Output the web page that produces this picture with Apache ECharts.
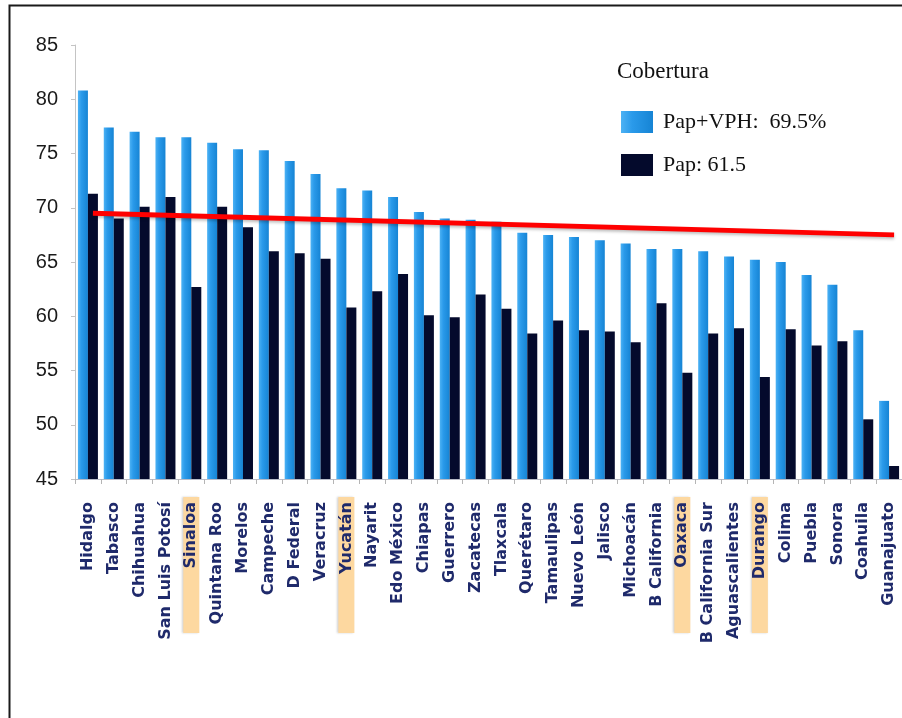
<!DOCTYPE html>
<html>
<head>
<meta charset="utf-8">
<script src="https://cdn.jsdelivr.net/npm/echarts@6/dist/echarts.min.js"></script>
<style>
html,body{margin:0;padding:0;background:#fff;}
#chart{width:902px;height:718px;}
</style>
</head>
<body>
<div id="chart"></div>
<script>
const categories = ['Hidalgo','Tabasco','Chihuahua','San Luis Potosí','Sinaloa','Quintana Roo','Morelos','Campeche','D Federal','Veracruz','Yucatán','Nayarit','Edo México','Chiapas','Guerrero','Zacatecas','Tlaxcala','Querétaro','Tamaulipas','Nuevo León','Jalisco','Michoacán','B California','Oaxaca','B California Sur','Aguascalientes','Durango','Colima','Puebla','Sonora','Coahuila','Guanajuato'];
const papVph = [80.8,77.4,77.0,76.5,76.5,76.0,75.4,75.3,74.3,73.1,71.8,71.6,71.0,69.6,69.0,68.9,68.7,67.7,67.5,67.3,67.0,66.7,66.2,66.2,66.0,65.5,65.2,65.0,63.8,62.9,58.7,52.2];
const pap = [71.3,69.0,70.1,71.0,62.7,70.1,68.2,66.0,65.8,65.3,60.8,62.3,63.9,60.1,59.9,62.0,60.7,58.4,59.6,58.7,58.6,57.6,61.2,54.8,58.4,58.9,54.4,58.8,57.3,57.7,50.5,46.2];
const highlighted = ['Sinaloa','Yucatán','Oaxaca','Durango'];
const trendStart = ['Hidalgo', 69.5];
const trendEnd = ['Guanajuato', 67.5];
const seriesNames = ['Pap+VPH:  69.5%', 'Pap: 61.5'];
const legendTitle = 'Cobertura';
const yMin = 45, yMax = 85, yStep = 5;

const chart = echarts.init(document.getElementById('chart'), null, {renderer:'canvas'});
const labelFont = 'DejaVu Sans';
const labelColor = '#1f2a6b';
const labelSize = 16;
chart.setOption({
  animation: false,
  backgroundColor: '#ffffff',
  title: {
    text: legendTitle, left: 612, top: 55,
    textStyle: {fontFamily: 'Liberation Serif', fontSize: 23, fontWeight: 'normal', color: '#111'}
  },
  legend: {
    orient: 'vertical', left: 616, top: 106,
    itemWidth: 32, itemHeight: 22, itemGap: 21,
    icon: 'rect', selectedMode: false,
    textStyle: {fontFamily: 'Liberation Serif', fontSize: 22, color: '#111', padding: [0,0,0,5]},
    data: seriesNames
  },
  grid: {left: 75, right: -4, top: 45, bottom: 239, containLabel: false},
  xAxis: {
    type: 'category', data: categories,
    axisLine: {lineStyle: {color: '#b8bcc8', width: 1}},
    axisTick: {show: true, length: 5, lineStyle: {color: '#b5b5b5'}},
    axisLabel: {
      interval: 0, rotate: 90, margin: 18,
      fontFamily: labelFont, fontWeight: 'bold', fontSize: labelSize, color: labelColor,
      formatter: v => highlighted.includes(v) ? '{hl|' + v + '}' : '{n|' + v + '}',
      rich: {
        n: {fontFamily: labelFont, fontWeight: 'bold', fontSize: labelSize, color: labelColor, padding: [0,5,0,0]},
        hl: {fontFamily: labelFont, fontWeight: 'bold', fontSize: labelSize, color: labelColor,
             backgroundColor: '#fdd8a0', width: 128, height: 16, align: 'right', padding: [0,5,0,3],
             shadowColor: 'rgba(0,0,0,0.18)', shadowBlur: 2, shadowOffsetX: -1}
      }
    }
  },
  yAxis: {
    type: 'value', min: yMin, max: yMax, interval: yStep,
    axisLine: {show: true, lineStyle: {color: '#c4c4c4'}},
    axisTick: {show: true, length: 4, lineStyle: {color: '#c4c4c4'}},
    splitLine: {show: false},
    axisLabel: {margin: 17, fontFamily: 'Liberation Sans', fontSize: 20, color: '#1a1a1a'}
  },
  series: [
    {
      name: seriesNames[0], type: 'bar', data: papVph,
      barWidth: 10, barGap: '0%',
      itemStyle: {color: new echarts.graphic.LinearGradient(0,0,1,0,[{offset:0,color:'#4db2f4'},{offset:0.35,color:'#2a9aea'},{offset:1,color:'#1684d4'}])},
      emphasis: {disabled: true}
    },
    {
      name: seriesNames[1], type: 'bar', data: pap,
      barWidth: 10, barGap: '0%',
      itemStyle: {color: '#040a2c'},
      emphasis: {disabled: true},
      markLine: {
        silent: true, symbol: ['none','none'],
        label: {show: false},
        lineStyle: {color: '#ff0000', width: 5, type: 'solid', shadowColor: 'rgba(0,0,0,0.25)', shadowBlur: 3, shadowOffsetY: 2},
        emphasis: {disabled: true},
        data: [[{coord: trendStart}, {coord: trendEnd}]]
      },
      z: 3
    }
  ],
  graphic: [{
    type: 'polyline', silent: true,
    shape: {points: [[9.5, 718], [9.5, 5.5], [902, 5.5]]},
    style: {stroke: '#1a1a1a', lineWidth: 2, fill: null}
  }]
});
</script>
</body>
</html>
